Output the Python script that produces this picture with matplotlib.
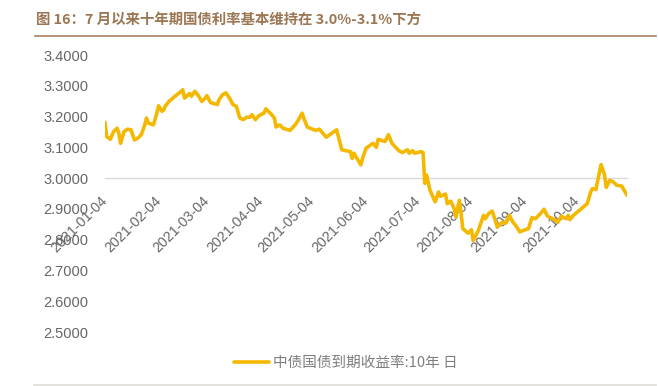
import matplotlib
matplotlib.use("Agg")
import matplotlib.pyplot as plt
import matplotlib.dates as mdates
import numpy as np
import pandas as pd

# ---- data ----
dates = [
    "2021-01-04", "2021-01-05", "2021-01-07", "2021-01-09", "2021-01-11", "2021-01-12", "2021-01-13",
    "2021-01-15", "2021-01-17", "2021-01-19", "2021-01-21", "2021-01-23", "2021-01-25", "2021-01-27",
    "2021-01-28", "2021-01-29", "2021-02-01", "2021-02-03", "2021-02-04", "2021-02-06", "2021-02-07",
    "2021-02-08", "2021-02-10", "2021-02-13", "2021-02-16", "2021-02-18", "2021-02-19", "2021-02-22",
    "2021-02-23", "2021-02-25", "2021-02-27", "2021-03-01", "2021-03-03", "2021-03-04", "2021-03-06",
    "2021-03-08", "2021-03-10", "2021-03-11", "2021-03-13", "2021-03-15", "2021-03-17", "2021-03-19",
    "2021-03-21", "2021-03-23", "2021-03-25", "2021-03-27", "2021-03-29", "2021-03-30", "2021-04-01",
    "2021-04-03", "2021-04-06", "2021-04-07", "2021-04-10", "2021-04-12", "2021-04-13", "2021-04-15",
    "2021-04-17", "2021-04-21", "2021-04-24", "2021-04-26", "2021-04-28", "2021-04-29", "2021-05-01",
    "2021-05-04", "2021-05-06", "2021-05-08", "2021-05-10", "2021-05-12", "2021-05-14", "2021-05-18",
    "2021-05-21", "2021-05-26", "2021-05-27", "2021-05-28", "2021-06-01", "2021-06-02", "2021-06-04",
    "2021-06-08", "2021-06-10", "2021-06-11", "2021-06-15", "2021-06-17", "2021-06-19", "2021-06-23",
    "2021-06-25", "2021-06-28", "2021-06-29", "2021-07-01", "2021-07-02", "2021-07-06", "2021-07-07",
    "2021-07-08", "2021-07-09", "2021-07-11", "2021-07-14", "2021-07-16", "2021-07-17", "2021-07-20",
    "2021-07-21", "2021-07-23", "2021-07-25", "2021-07-26", "2021-07-28", "2021-07-29", "2021-07-30",
    "2021-08-02", "2021-08-04", "2021-08-05", "2021-08-08", "2021-08-11", "2021-08-12", "2021-08-14",
    "2021-08-16", "2021-08-19", "2021-08-22", "2021-08-24", "2021-08-26", "2021-08-28", "2021-08-30",
    "2021-09-01", "2021-09-03", "2021-09-06", "2021-09-08", "2021-09-10", "2021-09-13", "2021-09-15",
    "2021-09-17", "2021-09-20", "2021-09-23", "2021-09-25", "2021-09-28", "2021-09-29", "2021-09-30",
    "2021-10-02", "2021-10-10", "2021-10-12", "2021-10-13", "2021-10-15", "2021-10-18", "2021-10-20",
    "2021-10-21", "2021-10-23", "2021-10-25", "2021-10-27", "2021-10-30", "2021-11-02",
]
yield_10y = [
    3.181, 3.135, 3.126, 3.151, 3.162, 3.146, 3.113,
    3.151, 3.159, 3.157, 3.124, 3.130, 3.141, 3.173,
    3.195, 3.179, 3.173, 3.211, 3.235, 3.217, 3.222,
    3.235, 3.249, 3.264, 3.277, 3.287, 3.260, 3.275,
    3.266, 3.282, 3.268, 3.249, 3.260, 3.268, 3.246,
    3.242, 3.239, 3.255, 3.271, 3.277, 3.260, 3.239,
    3.233, 3.195, 3.190, 3.198, 3.198, 3.206, 3.190,
    3.203, 3.211, 3.225, 3.209, 3.195, 3.166, 3.173,
    3.162, 3.155, 3.173, 3.190, 3.211, 3.195, 3.166,
    3.159, 3.155, 3.159, 3.146, 3.133, 3.141, 3.157,
    3.092, 3.086, 3.064, 3.081, 3.043, 3.064, 3.097,
    3.113, 3.100, 3.126, 3.119, 3.141, 3.113, 3.089,
    3.083, 3.092, 3.081, 3.089, 3.081, 3.086, 3.083,
    2.983, 3.010, 2.961, 2.923, 2.955, 2.941, 2.948,
    2.917, 2.925, 2.901, 2.874, 2.928, 2.885, 2.836,
    2.821, 2.832, 2.797, 2.830, 2.879, 2.868, 2.885,
    2.893, 2.841, 2.857, 2.854, 2.879, 2.857, 2.843,
    2.825, 2.830, 2.836, 2.872, 2.868, 2.885, 2.899,
    2.876, 2.868, 2.857, 2.876, 2.868, 2.879, 2.865,
    2.879, 2.917, 2.955, 2.966, 2.963, 3.044, 3.010,
    2.970, 2.993, 2.988, 2.977, 2.974, 2.944,
]
tick_dates = ["2021-01-04", "2021-02-04", "2021-03-04", "2021-04-04", "2021-05-04",
              "2021-06-04", "2021-07-04", "2021-08-04", "2021-09-04", "2021-10-04"]
y_ticks = [2.5, 2.6, 2.7, 2.8, 2.9, 3.0, 3.1, 3.2, 3.3, 3.4]
series_name = "中债国债到期收益率:10年 日"
title_text = "图 16：7 月以来十年期国债利率基本维持在 3.0%-3.1%下方"

# ---- figure ----
W, H = 659, 386
fig = plt.figure(figsize=(W / 100, H / 100), dpi=100)
cjk = ["Noto Sans CJK SC", "DejaVu Sans"]
num_font = ["Liberation Sans", "DejaVu Sans"]

ax = fig.add_axes([105 / W, 1 - 332 / H, (627 - 105) / W, (332 - 55) / H])

x = pd.to_datetime(dates)
line_color = "#F5B800"
ax.plot(x, yield_10y, color=line_color, lw=2.6, solid_joinstyle="round",
        solid_capstyle="round", label=series_name, zorder=3)

ax.set_xlim(x[0], x[-1])
ax.set_ylim(2.5, 3.4)

for s in ["top", "right", "left"]:
    ax.spines[s].set_visible(False)
ax.spines["bottom"].set_position(("data", 3.0))
ax.spines["bottom"].set_color("#d9d9d9")
ax.spines["bottom"].set_linewidth(1.0)
ax.spines["bottom"].set_zorder(1)

ax.set_yticks(y_ticks)
ax.set_yticklabels([f"{v:.4f}" for v in y_ticks], family=num_font, fontsize=10.5, color="#666666")
ax.tick_params(axis="y", length=0, pad=12)

ax.set_xticks(pd.to_datetime(tick_dates))
ax.set_xticklabels(tick_dates, family=num_font, fontsize=10.3, color="#666666",
                   rotation=45, ha="right", va="center", rotation_mode="anchor")
ax.tick_params(axis="x", length=0, pad=15)

# legend
leg = fig.legend(loc="center", bbox_to_anchor=(346 / W, 1 - 363 / H), frameon=False,
                 handlelength=2.4, handletextpad=0.3,
                 prop={"family": cjk, "size": 10.5})
for t in leg.get_texts():
    t.set_color("#7f7f7f")

# title
fig.text(36 / W, 1 - 20 / H, title_text, family=cjk, fontsize=10.4, fontweight="bold",
         color="#9b7652", ha="left", va="center")
fig.add_artist(plt.Line2D([35 / W, 656 / W], [1 - 36 / H, 1 - 36 / H],
                          color="#a98463", lw=1.2, transform=fig.transFigure))
fig.add_artist(plt.Line2D([34 / W, 656 / W], [1 - 385 / H, 1 - 385 / H],
                          color="#e0ddd8", lw=1.2, transform=fig.transFigure))

fig.savefig("out.png", dpi=100)
